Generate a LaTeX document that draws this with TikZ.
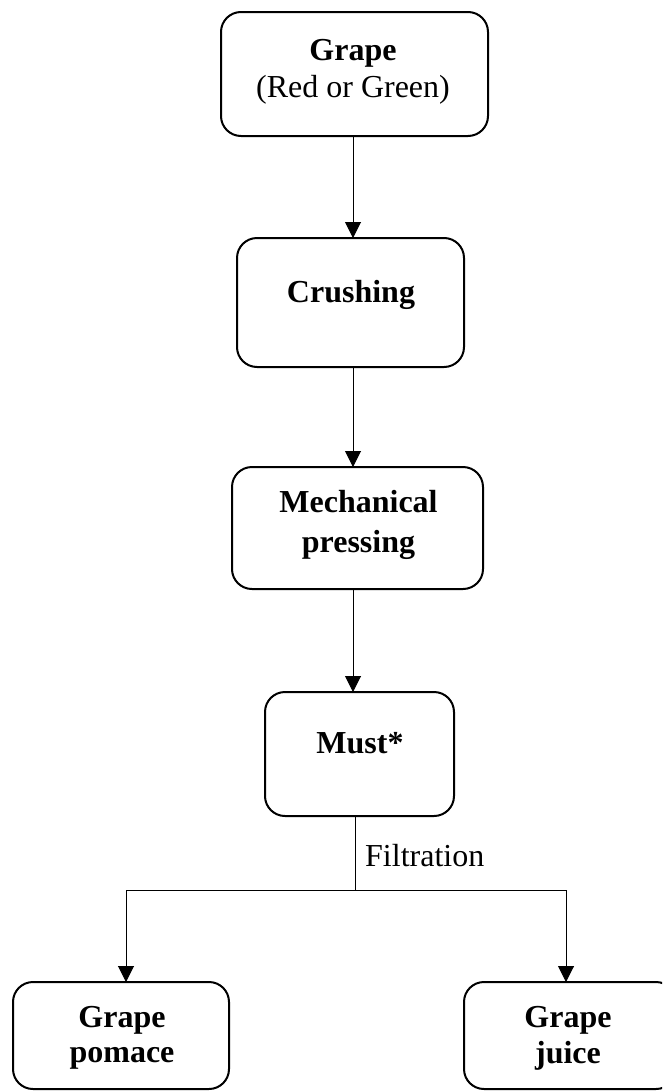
\documentclass[tikz,border=0pt]{standalone}
\usepackage{fontspec}
\setmainfont{Liberation Serif}
\usetikzlibrary{arrows.meta}
\tikzset{
  box/.style={draw, line width=2pt, rounded corners=20pt, inner sep=0pt, outer sep=0pt},
  lbl/.style={anchor=base, inner sep=0pt, font=\fontsize{32}{37}\selectfont\bfseries},
  lblr/.style={anchor=base, inner sep=0pt, font=\fontsize{32}{37}\selectfont},
  conn/.style={line width=1pt},
  arr/.style={line width=1pt, -{Triangle[length=16pt,width=16pt]}}
}
\begin{document}
\begin{tikzpicture}[x=1pt,y=-1pt]
\useasboundingbox (0,0) rectangle (662,1092);
\clip (0,0) rectangle (662,1092);
% boxes
\node[box, minimum width=267pt, minimum height=124pt] (g) at (354.5,74) {};
\node[box, minimum width=227pt, minimum height=129pt] (c) at (350.5,302.5) {};
\node[box, minimum width=251pt, minimum height=122pt] (m) at (357.5,528) {};
\node[box, minimum width=189pt, minimum height=124pt] (mu) at (359.5,754) {};
\node[box, minimum width=216pt, minimum height=107pt] (p) at (121,1035.5) {};
\node[box, minimum width=212pt, minimum height=107pt] (j) at (570,1035.5) {};
% texts
\node[lbl] (t1) at (353,60) {Grape};
\node[lblr] (t1b) at (353,97) {(Red or Green)};
\node[lbl] (t2) at (351,302) {Crushing};
\node[lbl] (t3) at (358.5,512) {Mechanical};
\node[lbl] (t3b) at (358.5,552) {pressing};
\node[lbl] (t4) at (360,753) {Must*};
\node[lbl] (t5) at (122,1027) {Grape};
\node[lbl] (t5b) at (122,1062) {pomace};
\node[lbl] (t6) at (568,1027) {Grape};
\node[lbl] (t6b) at (568,1063) {juice};
% axes
\coordinate (ax) at (353,0);
\coordinate (ax2) at (355,0);
\coordinate (jn) at (355,890);
\coordinate (lx) at (126,890);
\coordinate (rx) at (566,890);
\node[lblr, anchor=base west] (filt) at (365,866) {Filtration};
% connectors
\draw[arr] (g.south -| ax) -- (c.north -| ax);
\draw[arr] (c.south -| ax) -- (m.north -| ax);
\draw[arr] (m.south -| ax) -- (mu.north -| ax);
\draw[conn] (mu.south -| ax2) -- (jn);
\draw[conn] (lx) -- (rx);
\draw[arr] (lx) -- (p.north -| lx);
\draw[arr] (rx) -- (j.north -| rx);
\end{tikzpicture}
\end{document}
